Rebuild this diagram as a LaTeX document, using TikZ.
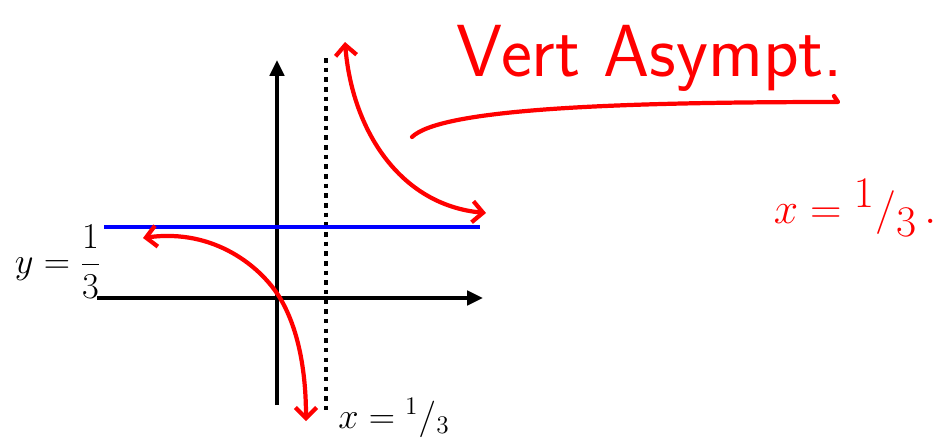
\documentclass[tikz,border=0pt]{standalone}
\usepackage{amsmath}
\usetikzlibrary{arrows.meta,positioning}
\definecolor{penRed}{RGB}{255,0,0}
\definecolor{lineBlue}{RGB}{0,0,255}

\begin{document}
\begin{tikzpicture}[x=0.02cm, y=-0.02cm,
  axis/.style={line width=2.3pt, -{Triangle[length=9pt,width=8pt]}},
  asym/.style={line width=2.6pt, dash pattern=on 2.6pt off 2.9pt},
  hline/.style={draw=lineBlue, line width=2.3pt},
  pen/.style={draw=penRed, line width=2.4pt, line cap=round, line join=round},
  barb/.style={{Straight Barb[length=6pt,width=12pt]}-{Straight Barb[length=6pt,width=12pt]}},
  redtext/.style={text=penRed, font=\fontsize{42}{46}\selectfont\sffamily},
  blacktext/.style={font=\fontsize{22}{26}\selectfont}
]
  \useasboundingbox (0,0) rectangle (951,440);

  % axes
  \coordinate (xl) at (97,298);
  \coordinate (xr) at (483,298);
  \coordinate (yb) at (277,405);
  \coordinate (yt) at (277,60);
  \draw[axis] (xl) -- (xr);
  \draw[axis] (yb) -- (yt);

  % asymptotes
  \coordinate (vt) at (326,58);
  \coordinate (vb) at (326,412);
  \draw[asym] (vt) -- (vb);
  \coordinate (hl) at (104,227);
  \coordinate (hr) at (480,227);
  \draw[hline] (hl) -- (hr);

  % branches
  \coordinate (ua) at (345,42);
  \coordinate (ub) at (486,213);
  \draw[pen, barb] (ua) .. controls (352,130) and (400,205) .. (ub);
  \coordinate (la) at (143,238);
  \coordinate (lo) at (280,298);
  \coordinate (lb) at (306,421);
  \draw[pen, barb] (la) .. controls (215,228) and (262,268) .. (lo)
    .. controls (298,328) and (306,370) .. (lb);

  % labels
  \node[blacktext] (ylab) at (58,262) {$y=\dfrac{1}{3}$};
  \node[blacktext] (xlab) at (394,418) {$x={}^1/_3$};
  \node[redtext] (vert) at (650,58) {Vert Asympt.};
  \node[redtext, font=\fontsize{36}{40}\selectfont] (xval) at (855,208)
    {$x={}^1/_3\,.$};
  \coordinate (sw) at (412,137);
  \coordinate (se) at (838,102);
  \draw[pen] (sw) .. controls (440,110) and (600,102) .. (se) -- (834,96);
\end{tikzpicture}
\end{document}
